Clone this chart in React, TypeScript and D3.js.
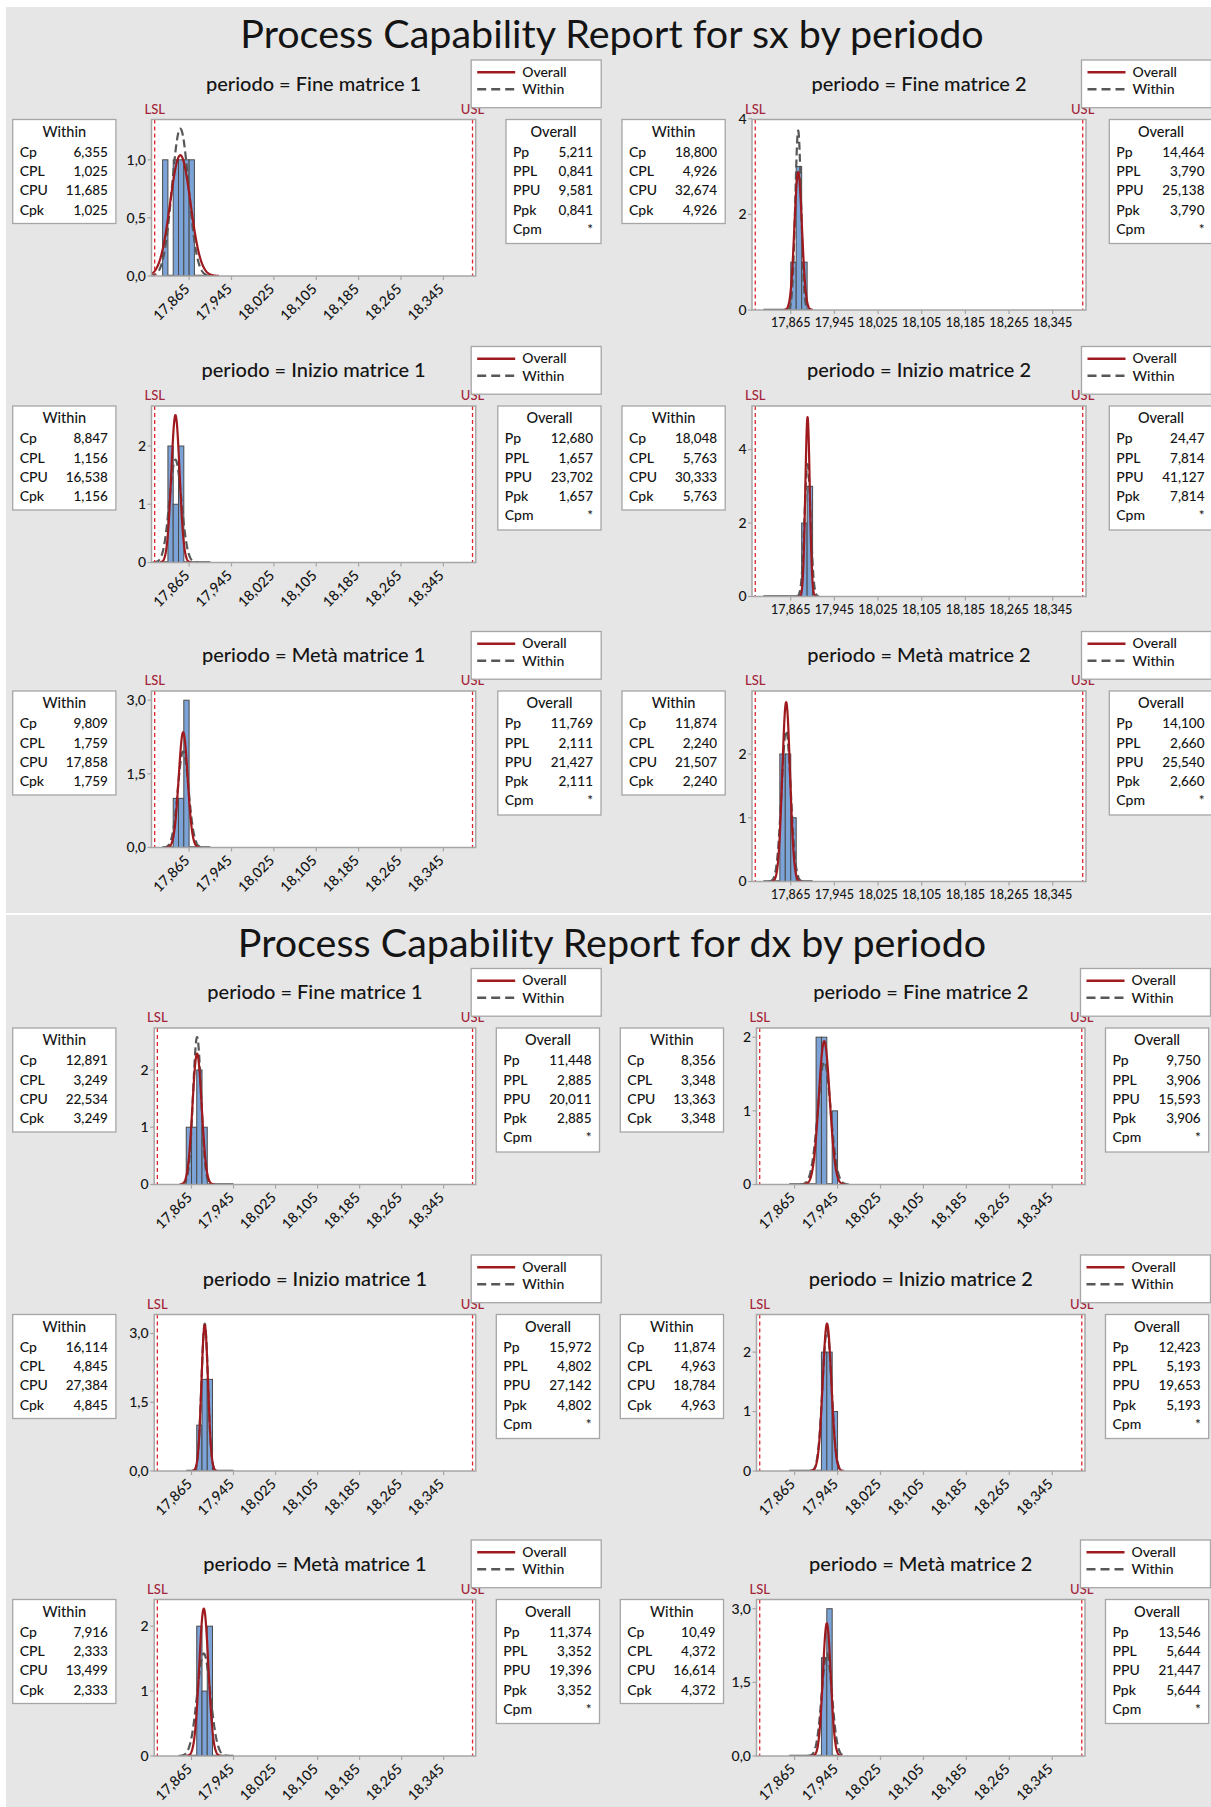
import React from 'react';
import * as d3 from 'd3';

// Specification limits shared by every group
const LSL = 17.8;
const USL = 18.4;
const BIN_WIDTH = 0.01;

const reportTitles = [
  'Process Capability Report for sx by periodo',
  'Process Capability Report for dx by periodo',
];

const periodi = [
  'Fine matrice 1',
  'Fine matrice 2',
  'Inizio matrice 1',
  'Inizio matrice 2',
  'Metà matrice 1',
  'Metà matrice 2',
];

const xTickValues = [17.865, 17.945, 18.025, 18.105, 18.185, 18.265, 18.345];

// Histogram bins (left edges) shared by the groups of each report
const sxBinStarts = [17.815, 17.825, 17.835, 17.845, 17.855, 17.865, 17.875, 17.885, 17.895];
const dxBinStarts = [17.855, 17.865, 17.875, 17.885, 17.895, 17.905, 17.915, 17.925, 17.935];

// Frequencies per group, in the order of `periodi`
const sxCounts = [
  [1, 0, 1, 1, 1, 1, 0, 0, 0],
  [0, 0, 0, 0, 0, 1, 3, 1, 0],
  [0, 2, 1, 2, 0, 0, 0, 0, 0],
  [0, 0, 0, 0, 0, 0, 0, 2, 3],
  [0, 0, 1, 1, 3, 0, 0, 0, 0],
  [0, 0, 0, 2, 2, 1, 0, 0, 0],
];
const dxCounts = [
  [1, 1, 2, 1, 0, 0, 0, 0, 0],
  [0, 0, 0, 0, 0, 2, 2, 0, 1],
  [0, 0, 1, 2, 2, 0, 0, 0, 0],
  [0, 0, 0, 0, 0, 0, 2, 2, 1],
  [0, 0, 2, 1, 2, 0, 0, 0, 0],
  [0, 0, 0, 0, 0, 0, 2, 3, 0],
];

// Within capability: Cp, CPL, CPU, Cpk
const withinLabels = ['Cp', 'CPL', 'CPU', 'Cpk'];
const sxWithin = [
  ['6,355', '1,025', '11,685', '1,025'],
  ['18,800', '4,926', '32,674', '4,926'],
  ['8,847', '1,156', '16,538', '1,156'],
  ['18,048', '5,763', '30,333', '5,763'],
  ['9,809', '1,759', '17,858', '1,759'],
  ['11,874', '2,240', '21,507', '2,240'],
];
const dxWithin = [
  ['12,891', '3,249', '22,534', '3,249'],
  ['8,356', '3,348', '13,363', '3,348'],
  ['16,114', '4,845', '27,384', '4,845'],
  ['11,874', '4,963', '18,784', '4,963'],
  ['7,916', '2,333', '13,499', '2,333'],
  ['10,49', '4,372', '16,614', '4,372'],
];

// Overall capability: Pp, PPL, PPU, Ppk, Cpm
const overallLabels = ['Pp', 'PPL', 'PPU', 'Ppk', 'Cpm'];
const sxOverall = [
  ['5,211', '0,841', '9,581', '0,841', '*'],
  ['14,464', '3,790', '25,138', '3,790', '*'],
  ['12,680', '1,657', '23,702', '1,657', '*'],
  ['24,47', '7,814', '41,127', '7,814', '*'],
  ['11,769', '2,111', '21,427', '2,111', '*'],
  ['14,100', '2,660', '25,540', '2,660', '*'],
];
const dxOverall = [
  ['11,448', '2,885', '20,011', '2,885', '*'],
  ['9,750', '3,906', '15,593', '3,906', '*'],
  ['15,972', '4,802', '27,142', '4,802', '*'],
  ['12,423', '5,193', '19,653', '5,193', '*'],
  ['11,374', '3,352', '19,396', '3,352', '*'],
  ['13,546', '5,644', '21,447', '5,644', '*'],
];

const sxYTicks = [[0, 0.5, 1], [0, 2, 4], [0, 1, 2], [0, 2, 4], [0, 1.5, 3], [0, 1, 2]];
const dxYTicks = [[0, 1, 2], [0, 1, 2], [0, 1.5, 3], [0, 1, 2], [0, 1, 2], [0, 1.5, 3]];

// ---- layout ----
const W = 1211;
const H = 1807;
const FONT = "Lato, 'Segoe UI', 'Open Sans', sans-serif";
const TEXT = '#141414';
const BG = '#e6e6e6';
const FRAME = '#a6a6a6';
const OVERALL_RED = '#9e1a1e';
const WITHIN_GRAY = '#575757';
const LIMIT_RED = '#e0262c';
const LIMIT_TEXT = '#a3253a';
const BAR_FILL = '#7ba3d7';
const BAR_STROKE = '#4a4a4a';
const X_DOMAIN: [number, number] = [17.794, 18.406];
const ROW_TOPS = [119.5, 406, 691];
const SQRT2PI = Math.sqrt(2 * Math.PI);
const WEIGHT = 500;

type ColGeom = { plotX0: number; plotX1: number; withinX: number; overallRight: number; rotated: boolean };

const reports = [
  {
    title: reportTitles[0],
    offsetY: 0,
    bins: sxBinStarts,
    counts: sxCounts,
    within: sxWithin,
    overall: sxOverall,
    yTicks: sxYTicks,
    bgTop: 7,
    bgBottom: 913,
    cols: [
      { plotX0: 151.5, plotX1: 475.7, withinX: 12.7, overallRight: 601, rotated: true },
      { plotX0: 752, plotX1: 1086, withinX: 622, overallRight: 1212.5, rotated: false },
    ] as ColGeom[],
  },
  {
    title: reportTitles[1],
    offsetY: 908.5,
    bins: dxBinStarts,
    counts: dxCounts,
    within: dxWithin,
    overall: dxOverall,
    yTicks: dxYTicks,
    bgTop: 915,
    bgBottom: 1807,
    cols: [
      { plotX0: 154.2, plotX1: 475.7, withinX: 12.7, overallRight: 599.5, rotated: true },
      { plotX0: 756.5, plotX1: 1085, withinX: 620.3, overallRight: 1208.7, rotated: true },
    ] as ColGeom[],
  },
];

const num = (s: string) => parseFloat(s.replace(',', '.'));
const fmtX = (v: number) => v.toFixed(3).replace('.', ',');
const boxWidth = (vals: string[]) => 54 + 8.2 * d3.max(vals, (v) => v.length)!;

function StatBox(props: { x: number; y: number; w: number; h: number; header: string; labels: string[]; values: string[] }) {
  const { x, y, w, h, header, labels, values } = props;
  return (
    <g>
      <rect x={x} y={y} width={w} height={h} fill="#fff" stroke={FRAME} strokeWidth={1.3} />
      <text x={x + w / 2} y={y + 17.4} textAnchor="middle" fontSize={14.5} fill={TEXT}>
        {header}
      </text>
      {labels.map((lab, i) => (
        <g key={lab}>
          <text x={x + 7} y={y + 37.4 + i * 19.2} fontSize={14} fill={TEXT}>
            {lab}
          </text>
          <text x={x + w - 8} y={y + 37.4 + i * 19.2} textAnchor="end" fontSize={13.5} fill={TEXT}>
            {values[i]}
          </text>
        </g>
      ))}
    </g>
  );
}

function Panel(props: {
  id: string;
  geom: ColGeom;
  rowTop: number;
  period: string;
  bins: number[];
  counts: number[];
  within: string[];
  overall: string[];
  yTicks: number[];
}) {
  const { id, geom, rowTop, period, bins, counts, within, overall, yTicks } = props;
  const { plotX0, plotX1, withinX, overallRight, rotated } = geom;
  const plotH = rotated ? 156.5 : 190.5;
  const plotBottom = rowTop + plotH;

  const x = d3.scaleLinear().domain(X_DOMAIN).range([plotX0, plotX1]);

  // Normal fits from the reported indices
  const area = d3.sum(counts) * BIN_WIDTH;
  const sW = (USL - LSL) / (6 * num(within[0]));
  const mW = LSL + 3 * sW * num(within[1]);
  const sO = (USL - LSL) / (6 * num(overall[0]));
  const mO = LSL + 3 * sO * num(overall[1]);
  const peak = Math.max(d3.max(counts)!, area / (sW * SQRT2PI), area / (sO * SQRT2PI));
  const y = d3.scaleLinear().domain([0, peak * 1.0625]).range([plotBottom, rowTop]);

  const normalPath = (m: number, s: number) => {
    const lo = m - 3.8 * s;
    const hi = m + 3.8 * s;
    const pts = d3.range(0, 301).map((i) => {
      const v = lo + ((hi - lo) * i) / 300;
      const d = (area / (s * SQRT2PI)) * Math.exp(-0.5 * ((v - m) / s) ** 2);
      return [x(v), y(d)] as [number, number];
    });
    return d3.line()(pts)!;
  };

  const decimals = yTicks.some((t) => !Number.isInteger(t));
  const fmtY = (t: number) => (decimals ? t.toFixed(1).replace('.', ',') : String(t));

  const cx = (plotX0 + plotX1) / 2;
  const legendX = plotX1 - 4.5;
  const legendY = rowTop - 59.5;
  const wW = boxWidth(within);
  const oW = boxWidth(overall);

  return (
    <g>
      {/* panel heading */}
      <text x={cx} y={rowTop - 28.8} textAnchor="middle" fontSize={20} fill={TEXT}>
        {`periodo = ${period}`}
      </text>

      {/* limit labels */}
      <text x={x(LSL)} y={rowTop - 6} textAnchor="middle" fontSize={13} fill={LIMIT_TEXT}>
        LSL
      </text>
      <text x={x(USL)} y={rowTop - 6} textAnchor="middle" fontSize={13} fill={LIMIT_TEXT}>
        USL
      </text>

      {/* legend */}
      <g>
        <rect x={legendX} y={legendY} width={130} height={47.7} fill="#fff" stroke={FRAME} strokeWidth={1.3} />
        <line x1={legendX + 6} x2={legendX + 44} y1={legendY + 12.3} y2={legendY + 12.3} stroke={OVERALL_RED} strokeWidth={2.5} />
        <text x={legendX + 51} y={legendY + 16.5} fontSize={14} fill={TEXT}>
          Overall
        </text>
        <line
          x1={legendX + 6}
          x2={legendX + 44}
          y1={legendY + 29.3}
          y2={legendY + 29.3}
          stroke={WITHIN_GRAY}
          strokeWidth={2.5}
          strokeDasharray="9,5"
        />
        <text x={legendX + 51} y={legendY + 34} fontSize={14} fill={TEXT}>
          Within
        </text>
      </g>

      {/* plot region */}
      <clipPath id={id}>
        <rect x={plotX0} y={rowTop} width={plotX1 - plotX0} height={plotH} />
      </clipPath>
      <rect x={plotX0} y={rowTop} width={plotX1 - plotX0} height={plotH} fill="#fff" />

      <g clipPath={`url(#${id})`}>
        <line
          x1={x(bins[0])}
          x2={x(bins[bins.length - 1] + BIN_WIDTH)}
          y1={plotBottom - 0.5}
          y2={plotBottom - 0.5}
          stroke={BAR_STROKE}
          strokeWidth={1.4}
        />
        {counts.map((c, i) =>
          c > 0 ? (
            <rect
              key={i}
              x={x(bins[i])}
              y={y(c)}
              width={x(bins[i] + BIN_WIDTH) - x(bins[i])}
              height={y(0) - y(c)}
              fill={BAR_FILL}
              stroke={BAR_STROKE}
              strokeWidth={1}
            />
          ) : null
        )}
        <path d={normalPath(mW, sW)} fill="none" stroke={WITHIN_GRAY} strokeWidth={2.2} strokeDasharray="8,4" />
        <path d={normalPath(mO, sO)} fill="none" stroke={OVERALL_RED} strokeWidth={2.2} />
        {[LSL, USL].map((v) => (
          <line key={v} x1={x(v)} x2={x(v)} y1={rowTop} y2={plotBottom} stroke={LIMIT_RED} strokeWidth={1.3} strokeDasharray="4,3" />
        ))}
      </g>
      <rect x={plotX0} y={rowTop} width={plotX1 - plotX0} height={plotH} fill="none" stroke={FRAME} strokeWidth={1.5} />

      {/* y axis */}
      {yTicks.map((t) => (
        <g key={t}>
          <line x1={plotX0 - 4} x2={plotX0} y1={y(t)} y2={y(t)} stroke={FRAME} strokeWidth={1.2} />
          <text x={plotX0 - 5.5} y={y(t)} dy="0.35em" textAnchor="end" fontSize={14} fill={TEXT}>
            {fmtY(t)}
          </text>
        </g>
      ))}

      {/* x axis */}
      {xTickValues.map((t) => (
        <g key={t}>
          <line x1={x(t)} x2={x(t)} y1={plotBottom} y2={plotBottom + 4} stroke={FRAME} strokeWidth={1.2} />
          {rotated ? (
            <text
              transform={`translate(${x(t) + 1.5},${plotBottom + 14}) rotate(-45)`}
              textAnchor="end"
              fontSize={14.2}
              fill={TEXT}
            >
              {fmtX(t)}
            </text>
          ) : (
            <text x={x(t)} y={plotBottom + 17.3} textAnchor="middle" fontSize={12.6} fill={TEXT}>
              {fmtX(t)}
            </text>
          )}
        </g>
      ))}

      {/* capability tables */}
      <StatBox x={withinX} y={rowTop} w={wW} h={104} header="Within" labels={withinLabels} values={within} />
      <StatBox
        x={overallRight - oW}
        y={rowTop}
        w={oW}
        h={124}
        header="Overall"
        labels={overallLabels}
        values={overall}
      />
    </g>
  );
}

export default function App() {
  return (
    <div style={{ position: 'absolute', left: 0, top: 0 }}>
      <svg width={W} height={H} style={{ display: 'block' }} fontFamily={FONT} fontWeight={WEIGHT}>
        <rect width={W} height={H} fill="#fff" />
        {reports.map((rep, r) => (
          <g key={r}>
            <rect x={6} y={rep.bgTop} width={W - 6} height={rep.bgBottom - rep.bgTop} fill={BG} />
            <g transform={`translate(0,${rep.offsetY})`}>
              <text x={612} y={48.3} textAnchor="middle" fontSize={39.5} fontWeight={400} fill={TEXT}>
                {rep.title}
              </text>
              {periodi.map((p, i) => (
                <Panel
                  key={p}
                  id={`clip-${r}-${i}`}
                  geom={rep.cols[i % 2]}
                  rowTop={ROW_TOPS[Math.floor(i / 2)]}
                  period={p}
                  bins={rep.bins}
                  counts={rep.counts[i]}
                  within={rep.within[i]}
                  overall={rep.overall[i]}
                  yTicks={rep.yTicks[i]}
                />
              ))}
            </g>
          </g>
        ))}
      </svg>
    </div>
  );
}
